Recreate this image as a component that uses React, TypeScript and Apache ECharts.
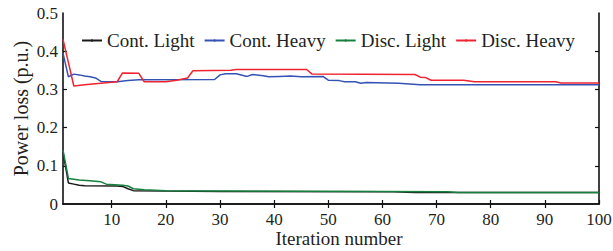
import React, { useEffect, useRef } from "react";
import * as echarts from "echarts";

const seriesNames = ["Cont. Light", "Cont. Heavy", "Disc. Light", "Disc. Heavy"];
const seriesColors = ["#1a1a1a", "#3553b5", "#17803f", "#ee2430"];

const xTickValues = [10, 20, 30, 40, 50, 60, 70, 80, 90, 100];
const yTickValues = [0, 0.1, 0.2, 0.3, 0.4, 0.5];

const contLight: [number, number][] = [
  [1, 0.135], [2, 0.055], [3, 0.052], [4, 0.049], [5, 0.048], [11, 0.047], [12, 0.046],
  [13, 0.04], [14, 0.035], [20, 0.034], [30, 0.033], [62, 0.032], [66, 0.030], [100, 0.030],
];
const contHeavy: [number, number][] = [
  [1, 0.395], [2, 0.333], [3, 0.34], [4, 0.338], [5, 0.335], [6, 0.333], [7, 0.33], [8, 0.321],
  [11, 0.32], [13, 0.323], [15, 0.325], [29, 0.326], [30, 0.338], [31, 0.341], [33, 0.341],
  [35, 0.334], [36, 0.339], [38, 0.336], [39, 0.333], [41, 0.334], [43, 0.335], [45, 0.333],
  [49, 0.334], [50, 0.324], [52, 0.323], [53, 0.32], [55, 0.32], [56, 0.316], [57, 0.318],
  [63, 0.316], [67, 0.312], [100, 0.312],
];
const discLight: [number, number][] = [
  [1, 0.141], [2, 0.067], [3, 0.065], [4, 0.063], [6, 0.061], [8, 0.058], [9, 0.052],
  [12, 0.049], [13, 0.047], [14, 0.04], [16, 0.037], [20, 0.035], [30, 0.034], [60, 0.033],
  [72, 0.032], [74, 0.030], [100, 0.030],
];
const discHeavy: [number, number][] = [
  [1, 0.431], [2, 0.37], [3, 0.309], [5, 0.312], [8, 0.316], [11, 0.32], [12, 0.343],
  [15, 0.342], [16, 0.32], [20, 0.32], [22, 0.324], [24, 0.33], [25, 0.349], [32, 0.35],
  [33, 0.352], [46, 0.352], [47, 0.34], [66, 0.339], [67, 0.332], [68, 0.331], [69, 0.324],
  [75, 0.324], [77, 0.32], [92, 0.32], [93, 0.317], [100, 0.317],
];

const allData = [contLight, contHeavy, discLight, discHeavy];

const FONT = "'Liberation Serif', 'Times New Roman', serif";
const TXT = "#231f20";

export default function App() {
  const ref = useRef<HTMLDivElement>(null);
  useEffect(() => {
    if (!ref.current) return;
    const chart = echarts.init(ref.current, undefined, { renderer: "svg" });
    const axisLine = { show: true, lineStyle: { color: "#111", width: 1.6 } };
    const tickInside = { show: true, inside: true, length: 4, lineStyle: { color: "#111", width: 1.2 } };
    chart.setOption({
      animation: false,
      backgroundColor: "#fff",
      textStyle: { fontFamily: FONT, color: TXT },
      grid: { left: 63, right: 14, top: 13, bottom: 47, outerBoundsMode: "none", containLabel: false },
      legend: {
        left: 76,
        top: 26,
        itemWidth: 20,
        itemHeight: 3,
        itemGap: 9,
        textStyle: { fontFamily: FONT, fontSize: 19, color: TXT },
        data: seriesNames,
      },
      xAxis: [
        {
          type: "value",
          min: 1,
          max: 100,
          position: "bottom",
          name: "Iteration number",
          nameLocation: "middle",
          nameGap: 25,
          nameMoveOverlap: false,
          nameTextStyle: { fontFamily: FONT, fontSize: 19, color: TXT, padding: [0, 0, 0, 16] },
          axisLine,
          axisTick: { ...tickInside, customValues: xTickValues },
          axisLabel: { customValues: xTickValues, fontFamily: FONT, fontSize: 17, color: TXT, margin: 7 },
          splitLine: { show: false },
        },
        {
          type: "value",
          min: 1,
          max: 100,
          position: "top",
          axisLine,
          axisTick: { ...tickInside, customValues: xTickValues.slice(0, 9) },
          axisLabel: { show: false },
          splitLine: { show: false },
        },
      ],
      yAxis: [
        {
          type: "value",
          min: 0,
          max: 0.5,
          interval: 0.1,
          position: "left",
          name: "Power loss (p.u.)",
          nameLocation: "middle",
          nameGap: 32,
          nameMoveOverlap: false,
          nameTextStyle: { fontFamily: FONT, fontSize: 20, color: TXT },
          axisLine,
          axisTick: { ...tickInside, customValues: yTickValues.slice(1, 5) },
          axisLabel: {
            fontFamily: FONT,
            fontSize: 17,
            color: TXT,
            margin: 5,
            formatter: (v: number) => (v === 0 ? "0" : v.toFixed(1)),
          },
          splitLine: { show: false },
        },
        {
          type: "value",
          min: 0,
          max: 0.5,
          interval: 0.1,
          position: "right",
          axisLine,
          axisTick: { ...tickInside, customValues: yTickValues.slice(1, 5) },
          axisLabel: { show: false },
          splitLine: { show: false },
        },
      ],
      series: allData.map((d, i) => ({
        name: seriesNames[i],
        type: "line",
        data: d,
        xAxisIndex: 0,
        yAxisIndex: 0,
        symbol: "circle",
        symbolSize: 3,
        showSymbol: false,
        color: seriesColors[i],
        lineStyle: { width: 1.5, color: seriesColors[i] },
      })),
    });
    return () => chart.dispose();
  }, []);
  return <div ref={ref} style={{ width: 613, height: 251, position: "absolute", left: 0, top: 0 }} />;
}
